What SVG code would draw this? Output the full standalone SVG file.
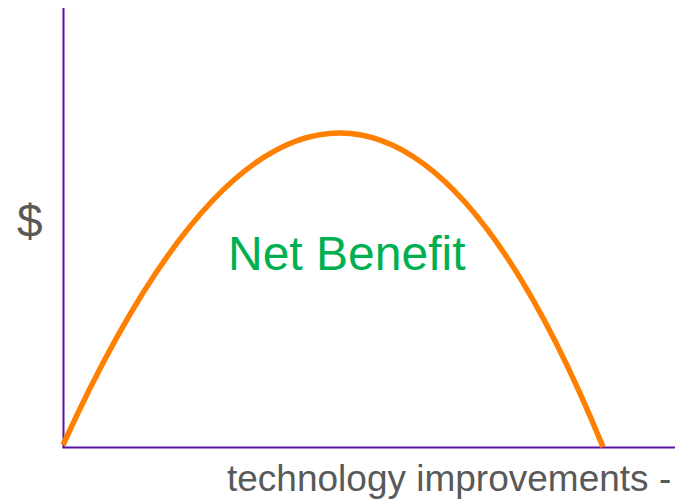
<svg xmlns="http://www.w3.org/2000/svg" width="675" height="501" viewBox="0 0 675 501">
<style>
.axis{stroke:#5A13A0;stroke-width:2;fill:none}
.curve{stroke:#FF7F00;stroke-width:5.5;fill:none;stroke-linecap:butt}
.lbl{font-family:"Liberation Sans",Arial,sans-serif;fill:#595959}
</style>
<rect width="675" height="501" fill="#fff"/>
<g id="axes">
<line class="axis" x1="63.5" y1="8" x2="63.5" y2="448"/>
<line class="axis" x1="62.5" y1="447.5" x2="675" y2="447.5"/>
</g>
<g id="curve">
<path class="curve" d="M63,445 Q347,-180 603,447"/>
</g>
<text class="lbl" x="17" y="237" font-size="46">$</text>
<text x="228" y="270" font-family="Liberation Sans,Arial,sans-serif" font-size="48" fill="#00B050">Net Benefit</text>
<text class="lbl" x="227" y="491" font-size="37">technology improvements -</text>
</svg>
